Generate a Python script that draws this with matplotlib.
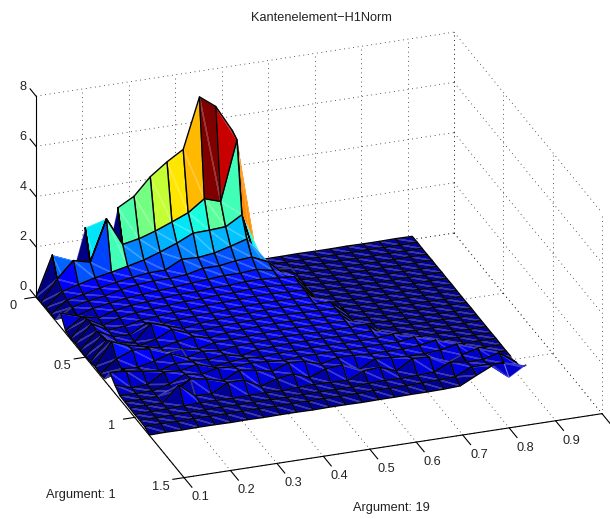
import numpy as np
import matplotlib
matplotlib.use('Agg')
import matplotlib.pyplot as plt
from mpl_toolkits.mplot3d import proj3d
from mpl_toolkits.mplot3d.art3d import Poly3DCollection

plt.rcParams['font.family'] = ['Liberation Sans', 'DejaVu Sans']

title = 'Kantenelement\u2212H1Norm'
x_label = 'Argument: 19'
y_label = 'Argument: 1'

x_ticks = [0.1, 0.2, 0.3, 0.4, 0.5, 0.6, 0.7, 0.8, 0.9, 1.0]
x_tick_labels = ['0.1', '0.2', '0.3', '0.4', '0.5', '0.6', '0.7', '0.8', '0.9', '']
y_ticks = [0, 0.5, 1, 1.5]
y_tick_labels = ['0', '0.5', '1', '1.5']
z_ticks = [0, 2, 4, 6, 8]
z_tick_labels = ['0', '2', '4', '6', '8']

x_values = [0.100, 0.135, 0.170, 0.206, 0.241, 0.276, 0.311, 0.346, 0.382, 0.417, 0.452, 0.487,
            0.522, 0.558, 0.593, 0.628, 0.663, 0.698, 0.734, 0.769, 0.804, 0.839, 0.874, 0.910]
y_values = [0.00, 0.05, 0.10, 0.15, 0.20, 0.25, 0.30, 0.35, 0.40, 0.45, 0.50, 0.55,
            0.60, 0.65, 0.70, 0.75, 0.80, 0.85, 0.90, 0.95, 1.00, 1.05, 1.10, 1.15]

# one row per y value
z_rows = [
    [0.00, 1.57, 0.10, 2.45, 0.10, 3.05, 3.41, 4.09, 4.58, 4.98, 6.97, 6.49, 5.45, 0.15, 0.12, 0.12, 0.13, 0.12, 0.12, 0.13, 0.12, 0.12, 0.13, 0.12],
    [0.03, 0.85, 1.49, 1.32, 2.95, 1.83, 1.96, 2.17, 2.43, 2.70, 3.16, 2.95, 5.30, 0.20, 0.14, 0.13, 0.12, 0.13, 0.12, 0.12, 0.13, 0.12, 0.12, 0.13],
    [0.05, 0.60, 0.77, 0.94, 1.06, 1.20, 1.35, 1.57, 1.82, 2.12, 2.14, 2.18, 2.56, 0.38, 0.18, 0.14, 0.13, 0.12, 0.13, 0.12, 0.12, 0.13, 0.12, 0.12],
    [0.04, 0.50, 0.62, 0.78, 0.90, 1.00, 1.08, 1.09, 1.42, 1.39, 1.47, 1.64, 1.83, 0.85, 0.40, 0.15, 0.12, 0.13, 0.12, 0.13, 0.12, 0.12, 0.13, 0.12],
    [0.05, 0.45, 0.60, 0.70, 0.85, 0.95, 1.00, 1.00, 1.05, 1.20, 1.20, 1.30, 1.35, 1.05, 0.45, 0.15, 0.13, 0.12, 0.13, 0.12, 0.13, 0.12, 0.12, 0.13],
    [0.55, 0.35, 0.55, 0.65, 0.75, 0.80, 0.85, 0.90, 0.95, 1.00, 1.05, 1.05, 1.10, 0.95, 0.50, 0.16, 0.13, 0.12, 0.12, 0.13, 0.12, 0.13, 0.12, 0.12],
    [0.10, 0.55, 0.40, 0.60, 0.70, 0.75, 0.80, 0.85, 0.85, 0.90, 0.90, 0.95, 0.95, 0.90, 0.85, 0.14, 0.14, 0.12, 0.13, 0.12, 0.12, 0.13, 0.12, 0.13],
    [0.03, 0.70, 0.35, 0.55, 0.65, 0.70, 0.75, 0.80, 0.80, 0.85, 0.85, 0.90, 0.90, 0.85, 0.80, 0.13, 0.13, 0.13, 0.12, 0.13, 0.12, 0.12, 0.13, 0.12],
    [0.08, 0.75, 0.40, 0.45, 0.60, 0.65, 0.70, 0.72, 0.78, 0.80, 0.82, 0.85, 0.85, 0.82, 0.80, 0.14, 0.14, 0.12, 0.13, 0.12, 0.13, 0.12, 0.12, 0.13],
    [0.04, 0.70, 0.38, 0.35, 0.70, 0.60, 0.65, 0.70, 0.72, 0.75, 0.78, 0.80, 0.80, 0.78, 0.75, 0.15, 0.15, 0.13, 0.12, 0.12, 0.13, 0.12, 0.13, 0.12],
    [0.03, 0.75, 0.35, 0.30, 0.95, 0.75, 0.55, 0.65, 0.70, 0.72, 0.75, 0.78, 0.78, 0.75, 0.72, 0.70, 0.16, 0.12, 0.13, 0.12, 0.12, 0.13, 0.12, 0.12],
    [0.05, 0.80, 0.50, 0.40, 0.55, 0.85, 0.60, 0.62, 0.68, 0.70, 0.72, 0.75, 0.75, 0.72, 0.70, 0.68, 0.15, 0.13, 0.12, 0.13, 0.12, 0.12, 0.13, 0.12],
    [0.10, 1.00, 0.75, 0.60, 0.45, 0.60, 0.70, 0.55, 0.65, 0.68, 0.70, 0.72, 0.72, 0.70, 0.68, 0.68, 0.15, 0.14, 0.13, 0.12, 0.13, 0.12, 0.12, 0.13],
    [0.05, 0.55, 0.80, 0.75, 0.50, 0.55, 0.45, 0.60, 0.62, 0.65, 0.68, 0.70, 0.70, 0.68, 0.68, 0.65, 0.14, 0.13, 0.14, 0.12, 0.12, 0.13, 0.12, 0.12],
    [0.10, 0.40, 0.35, 0.50, 0.70, 0.45, 0.60, 0.52, 0.60, 0.62, 0.65, 0.68, 0.68, 0.65, 0.65, 0.65, 0.68, 0.14, 0.13, 0.14, 0.13, 0.12, 0.13, 0.12],
    [0.58, 0.54, 0.44, 0.35, 0.55, 0.55, 0.50, 0.60, 0.45, 0.60, 0.62, 0.65, 0.65, 0.65, 0.62, 0.62, 0.65, 0.14, 0.13, 0.13, 0.14, 0.13, 0.12, 0.12],
    [0.33, 0.12, 0.15, 0.55, 0.50, 0.65, 0.45, 0.55, 0.60, 0.55, 0.60, 0.60, 0.62, 0.62, 0.60, 0.60, 0.60, 0.65, 0.14, 0.13, 0.13, 0.14, 0.13, 0.12],
    [0.15, 0.13, 0.14, 0.30, 0.60, 0.50, 0.65, 0.60, 0.65, 0.60, 0.55, 0.60, 0.60, 0.60, 0.58, 0.58, 0.60, 0.58, 0.68, 0.14, 0.13, 0.13, 0.14, 0.13],
    [0.14, 0.13, 0.15, 0.25, 0.65, 0.55, 0.37, 0.70, 0.60, 0.45, 0.70, 0.65, 0.45, 0.60, 0.60, 0.55, 0.55, 0.55, 0.58, 0.70, 0.14, 0.13, 0.13, 0.12],
    [0.13, 0.14, 0.13, 0.75, 0.22, 0.20, 0.55, 0.55, 0.20, 0.40, 0.50, 0.25, 0.50, 0.55, 0.25, 0.60, 0.55, 0.50, 0.50, 0.55, 0.68, 0.14, 0.13, 0.12],
    [0.12, 0.13, 0.14, 0.16, 0.18, 0.18, 0.16, 0.18, 0.18, 0.16, 0.20, 0.22, 0.20, 0.18, 0.45, 0.50, 0.25, 0.65, 0.60, 0.25, 0.50, 0.65, 0.15, 0.13],
    [0.13, 0.12, 0.13, 0.14, 0.14, 0.15, 0.14, 0.15, 0.15, 0.14, 0.15, 0.16, 0.15, 0.15, 0.20, 0.22, 0.20, 0.22, 0.25, 0.55, 0.45, 0.45, 0.62, 0.15],
    [0.12, 0.13, 0.12, 0.13, 0.13, 0.12, 0.13, 0.13, 0.12, 0.13, 0.13, 0.14, 0.13, 0.13, 0.15, 0.15, 0.15, 0.16, 0.18, 0.20, 0.50, 0.50, 0.45, 0.20],
    [0.02, 0.03, 0.02, 0.03, 0.03, 0.02, 0.03, 0.02, 0.03, 0.03, 0.02, 0.03, 0.03, 0.02, 0.03, 0.03, 0.04, 0.04, 0.05, 0.08, 0.40, 0.70, 0.10, 0.50],
]

fig = plt.figure(figsize=(6.1, 5.19), dpi=100)
# 3d axes always stay square, so make them as wide as the figure
side = 610 / 519
ax = fig.add_axes([0, (1 - side) / 2, 1, side], projection='3d', proj_type='ortho')
ax.computed_zorder = False
ax.set_axis_off()
ax.view_init(elev=25.6, azim=-109.5)
ax.set_xlim(0.1, 1, view_margin=0)
ax.set_ylim(1.5, 0, view_margin=0)
ax.set_zlim(0, 8, view_margin=0)
box = (1, 1, 0.5024)
ax.set_box_aspect(box)


def to_px(x, y, z):
    xs, ys, _ = proj3d.proj_transform(x, y, z, ax.get_proj())
    return ax.transData.transform((xs, ys))


# fit the box onto the pixels of the reference
fig.canvas.draw()
span = to_px(1, 1.5, 0)[0] - to_px(0.1, 1.5, 0)[0]
ax.set_box_aspect(box, zoom=418 / span)
fig.canvas.draw()
corner = to_px(0.1, 0, 0)
pos = ax.get_position()
ax.set_position([pos.x0 + (36 - corner[0]) / 610, pos.y0 + (222 - corner[1]) / 519, pos.width, pos.height])
fig.canvas.draw()

text = dict(fontsize=9.2, color='#222222', ha='center', va='center')


def tick_label(x, y, z, s):
    p = to_px(x, y, z)
    fig.text(p[0] / 610, p[1] / 519, s, **text)


# dotted grid on the floor and the two back walls
grid = dict(color='#222222', lw=0.6, ls=(0, (1, 4.5)), zorder=1)
for t in x_ticks:
    ax.plot([t, t], [0, 1.5], [0, 0], **grid)
    ax.plot([t, t], [0, 0], [0, 8], **grid)
for t in y_ticks:
    ax.plot([0.1, 1], [t, t], [0, 0], **grid)
    ax.plot([1, 1], [t, t], [0, 8], **grid)
for t in z_ticks:
    ax.plot([0.1, 1], [0, 0], [t, t], **grid)
    ax.plot([1, 1], [0, 1.5], [t, t], **grid)

# axis lines and ticks
axis = dict(color='black', lw=0.8, zorder=1.5)
ax.plot([0.1, 1], [1.5, 1.5], [0, 0], **axis)
ax.plot([0.1, 0.1], [0, 1.5], [0, 0], **axis)
ax.plot([0.1, 0.1], [0, 0], [0, 8], **axis)
for t, s in zip(x_ticks, x_tick_labels):
    ax.plot([t, t], [1.5, 1.58], [0, 0], **axis)
    if s:
        tick_label(t, 1.665, 0, s)
for t, s in zip(y_ticks, y_tick_labels):
    ax.plot([0.1, 0.076], [t, t], [0, 0], **axis)
    tick_label(0.05, t, -0.22, s)
for t, s in zip(z_ticks, z_tick_labels):
    ax.plot([0.1, 0.1], [0, -0.06], [t, t], **axis)
    tick_label(0.09, -0.085, t, s)

# the surface: flat colour from the first corner of each cell, a faint diagonal
# inside it (edge of the fill) and the black cell outline on top
x_arr = np.array(x_values)
y_arr = np.array(y_values)
z_arr = np.array(z_rows)
jet = plt.get_cmap('jet', 64)
norm = plt.Normalize(0, z_arr.max())


def turn(a, b, c):
    pa, pb, pc = to_px(*a), to_px(*b), to_px(*c)
    return np.cross(pb - pa, pc - pa)


polys = []
faces = []
edges = []
for r in range(len(y_values) - 1):
    for c in range(len(x_values) - 1):
        bl = (x_arr[c], y_arr[r], z_arr[r, c])
        br = (x_arr[c + 1], y_arr[r], z_arr[r, c + 1])
        fr = (x_arr[c + 1], y_arr[r + 1], z_arr[r + 1, c + 1])
        fl = (x_arr[c], y_arr[r + 1], z_arr[r + 1, c])
        corners = [bl, br, fr, fl]
        if turn(bl, br, fr) * turn(bl, fr, fl) >= 0:
            polys.append([bl, br, fr, bl, fr, fl])
            line = [bl, br, fr, fr, fl, bl]
        else:
            # cell folded over its diagonal: keep the winding so both halves fill,
            # and leave out the edges to the low corner, they lie behind the fold
            polys.append([bl, br, fr, bl, fl, fr])
            low = int(np.argmin([p[2] for p in corners]))
            a, b, d = corners[(low + 1) % 4], corners[(low + 2) % 4], corners[(low + 3) % 4]
            line = [a, b, d, d, b, a]
        faces.append(jet(norm(z_arr[r, c])))
        edges.append((1, 1, 1, 0.22))
        polys.append([(p[0], p[1], p[2] + 0.002) for p in line])
        faces.append((0, 0, 0, 0))
        edges.append((0, 0, 0, 1))

surf = Poly3DCollection(polys, facecolors=faces, edgecolors=edges, linewidths=1.0, zorder=2)
ax.add_collection3d(surf)

fig.text(321 / 610, 1 - 18 / 519, title, **text)
fig.text(81 / 610, 1 - 495 / 519, y_label, **text)
fig.text(391 / 610, 1 - 508 / 519, x_label, **text)

fig.savefig('out.png', dpi=100)
